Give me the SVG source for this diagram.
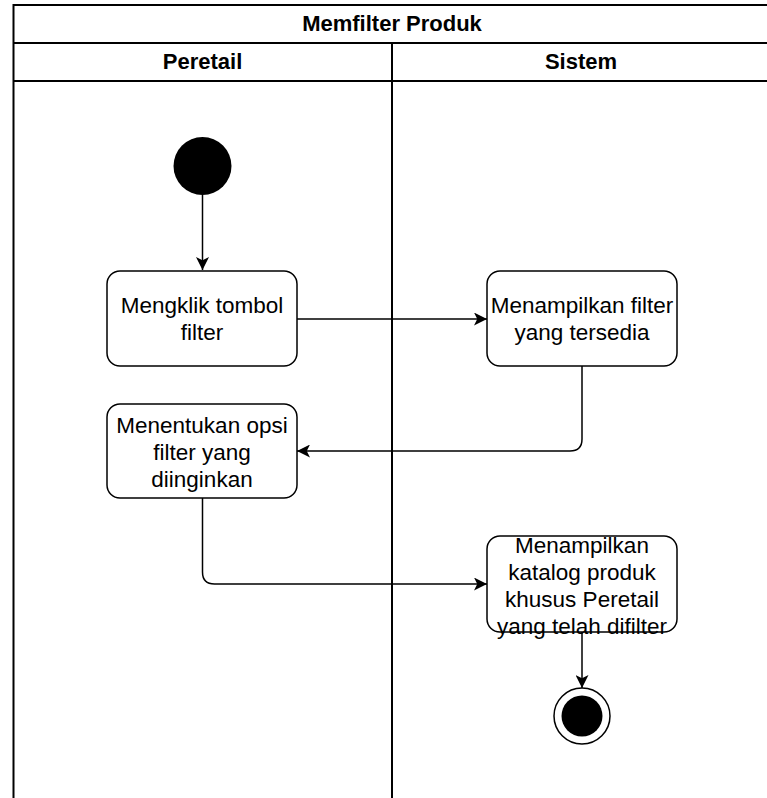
<svg xmlns="http://www.w3.org/2000/svg" width="767" height="798" viewBox="0 0 767 798">
<defs>
<marker id="arr" viewBox="0 0 12 12" refX="12" refY="6" markerWidth="13" markerHeight="13" markerUnits="userSpaceOnUse" orient="auto">
<path d="M0,0 L12,6 L0,12 L3,6 Z" fill="#000"/>
</marker>
</defs>
<style>
.frame{fill:none;stroke:#000;stroke-width:2}
.node{fill:#fff;stroke:#000;stroke-width:1.5}
.t{font-family:"Liberation Sans",Arial,sans-serif;font-size:22.5px;fill:#000;text-anchor:middle}
.h{font-family:"Liberation Sans",Arial,sans-serif;font-size:22px;font-weight:bold;fill:#000;text-anchor:middle}
.edge{fill:none;stroke:#000;stroke-width:1.5;marker-end:url(#arr)}
</style>
<rect width="767" height="798" fill="#fff"/>
<g id="pool">
<path class="frame" d="M775,5 L13.5,5 L13.5,800 M13.5,43 L775,43 M13.5,81 L775,81 M392,43 L392,800"/>
<text class="h" x="392" y="31">Memfilter Produk</text>
<text class="h" x="202.5" y="69">Peretail</text>
<text class="h" x="581" y="69">Sistem</text>
</g>
<g id="edges">
<path class="edge" d="M202.5,195 L202.5,270"/>
<path class="edge" d="M297,319 L487,319"/>
<path class="edge" d="M582,366 L582,439 Q582,451 570,451 L297,451"/>
<path class="edge" d="M202.5,498 L202.5,572 Q202.5,584 214.5,584 L487,584"/>
<path class="edge" d="M582,632 L582,688"/>
</g>
<g id="start">
<circle cx="202.5" cy="166" r="29" fill="#000"/>
</g>
<g id="n1">
<rect class="node" x="107" y="271" width="190" height="95" rx="13"/>
<text class="t" x="202" y="313">Mengklik tombol</text>
<text class="t" x="202" y="340">filter</text>
</g>
<g id="n2">
<rect class="node" x="487" y="271" width="190" height="95" rx="13"/>
<text class="t" x="582" y="313">Menampilkan filter</text>
<text class="t" x="582" y="340">yang tersedia</text>
</g>
<g id="n3">
<rect class="node" x="107" y="404" width="190" height="94" rx="13"/>
<text class="t" x="202" y="433">Menentukan opsi</text>
<text class="t" x="202" y="460">filter yang</text>
<text class="t" x="202" y="487">diinginkan</text>
</g>
<g id="n4">
<rect class="node" x="487" y="536" width="190" height="96" rx="13"/>
<text class="t" x="582" y="553">Menampilkan</text>
<text class="t" x="582" y="580">katalog produk</text>
<text class="t" x="582" y="607">khusus Peretail</text>
<text class="t" x="582" y="634">yang telah difilter</text>
</g>
<g id="end">
<circle cx="582" cy="716" r="28" fill="#fff" stroke="#000" stroke-width="1.5"/>
<circle cx="582" cy="716" r="20.5" fill="#000"/>
</g>
</svg>
